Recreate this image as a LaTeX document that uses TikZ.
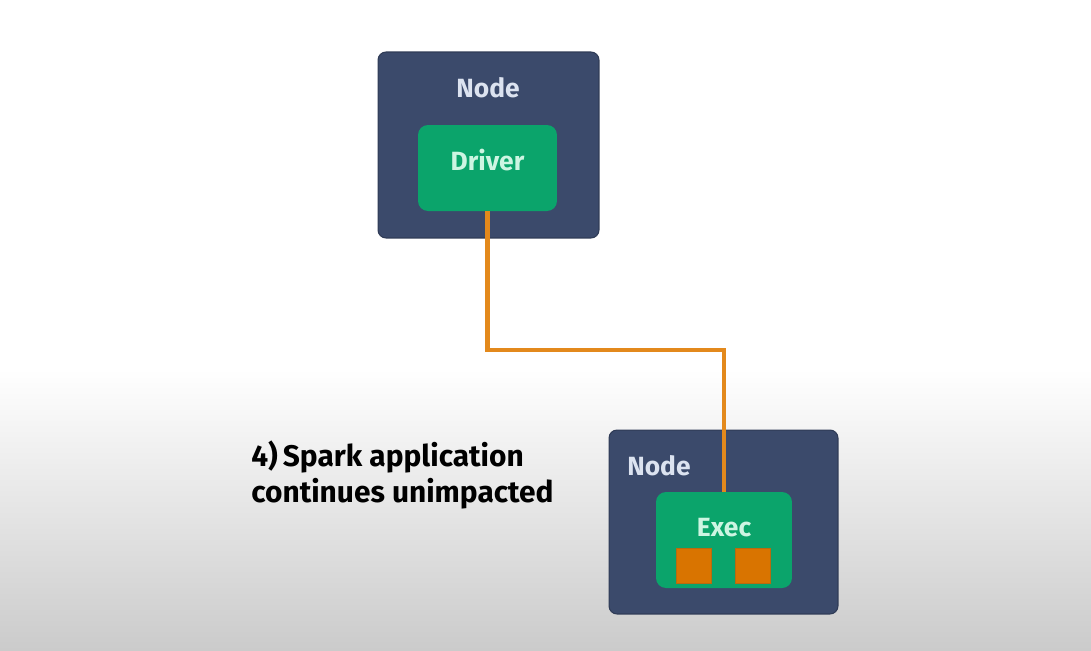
\documentclass[tikz,border=0pt]{standalone}
\usepackage{fontspec}
\setmainfont{Fira Sans}
\usetikzlibrary{calc}
\definecolor{bgbot}{HTML}{CBCBCB}
\definecolor{nodebox}{HTML}{3B4A6B}
\definecolor{nodetext}{HTML}{DCE3F0}
\definecolor{greenbox}{HTML}{0BA46B}
\definecolor{greentext}{HTML}{CDF5E2}
\definecolor{wire}{HTML}{E3891C}
\definecolor{task}{HTML}{D97400}
\definecolor{taskedge}{HTML}{B86A10}
\tikzset{
  hostbox/.style={fill=nodebox, draw=nodebox!80!black, line width=0.6pt, rounded corners=0.16cm, inner sep=0pt},
  procbox/.style={fill=greenbox, rounded corners=0.2cm, inner sep=0pt},
  taskbox/.style={fill=task, draw=taskedge, line width=0.5pt, inner sep=0pt, minimum size=0.7cm},
  hostlabel/.style={text=nodetext, font=\fontsize{15}{18}\selectfont\bfseries, inner sep=0pt},
  proclabel/.style={text=greentext, font=\fontsize{15}{18}\selectfont\bfseries, inner sep=0pt},
  wireline/.style={draw=wire, line width=2.4pt},
  caption/.style={text=black, font=\fontsize{17}{20}\selectfont\bfseries, align=left, inner sep=0pt, anchor=west}
}
\begin{document}
\begin{tikzpicture}[x=0.02cm, y=-0.02cm]
\useasboundingbox (0,0) rectangle (1091,650);
% background
\fill[white] (0,0) rectangle (1091,370);
\shade[top color=white, bottom color=bgbot] (0,369) rectangle (1091,650);
% top node
\node[hostbox, minimum width=4.42cm, minimum height=3.72cm] (n1) at (488.5,145) {};
\node[hostlabel] (n1lab) at (488,88) {Node};
\node[procbox, minimum width=2.78cm, minimum height=1.72cm] (drv) at (487.5,168) {};
\node[proclabel] (drvlab) at (487.5,160) {Driver};
% bottom node
\node[hostbox, minimum width=4.58cm, minimum height=3.68cm] (n2) at (723.5,522) {};
\node[hostlabel, anchor=west] (n2lab) at (627,466) {Node};
\node[procbox, minimum width=2.72cm, minimum height=1.92cm] (exec) at (724,540) {};
\node[proclabel] (execlab) at (724,528) {Exec};
\node[taskbox] (t1) at (693.5,565.5) {};
\node[taskbox] (t2) at (752.5,565.5) {};
% connector
\coordinate (bend) at (0,350);
\draw[wireline] (drv.south) -- (drv.south |- bend) -| (exec.north);
% caption
\node[caption] (cap) at (251,475) {4)\,Spark application\\continues unimpacted};
\end{tikzpicture}
\end{document}
